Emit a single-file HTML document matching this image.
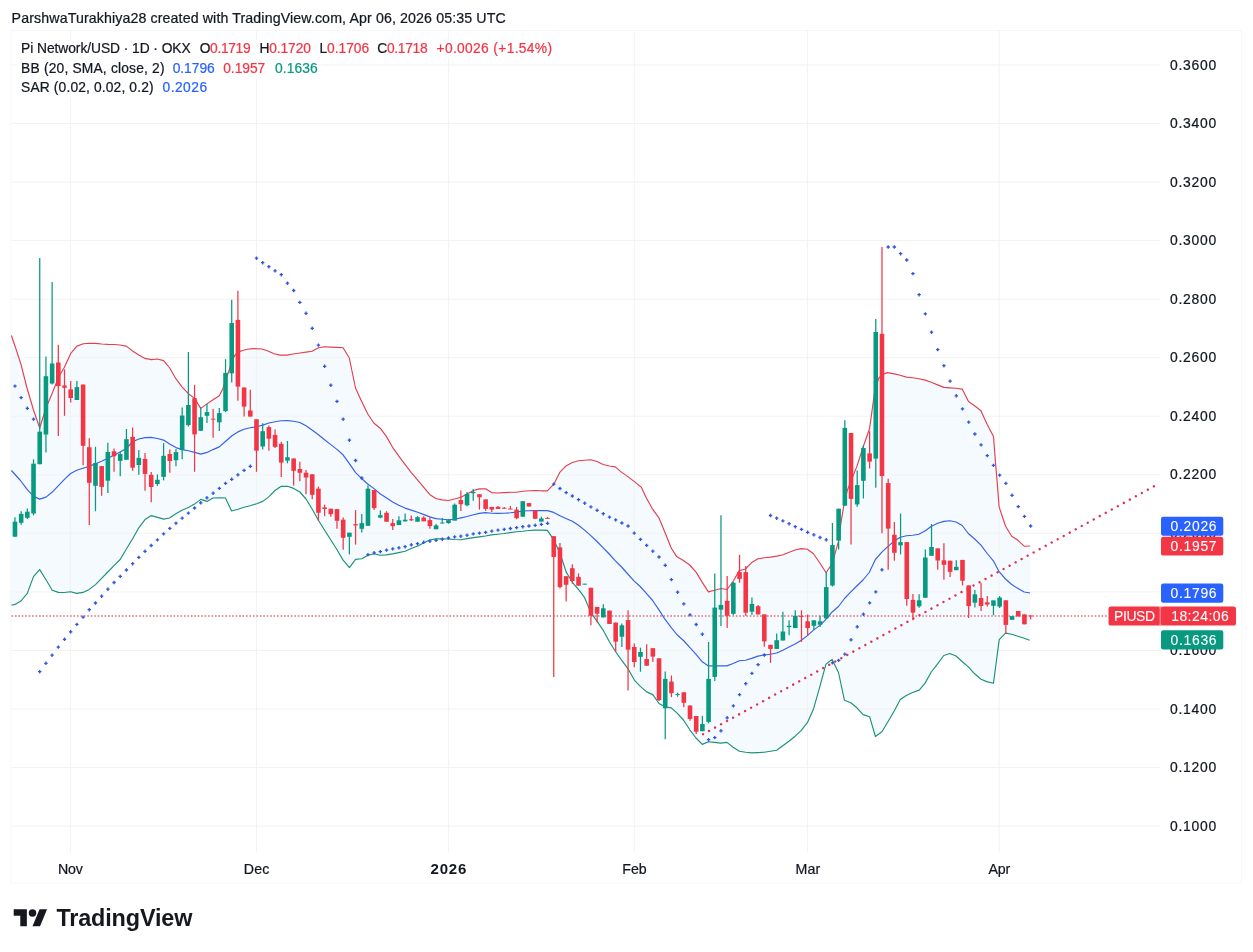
<!DOCTYPE html>
<html lang="en"><head><meta charset="utf-8"><title>Pi Network/USD chart</title>
<style>
html,body{margin:0;padding:0;background:#fff;}
body{width:1253px;height:952px;overflow:hidden;position:relative;font-family:"Liberation Sans", sans-serif;}
svg{position:absolute;left:0;top:0;display:block}
text{font-family:"Liberation Sans", sans-serif;}
</style></head><body>
<svg width="1253" height="952" viewBox="0 0 1253 952">
<rect x="0" y="0" width="1253" height="952" fill="#ffffff"/>
<rect x="10.9" y="30.4" width="1230.4" height="852.6" fill="#ffffff" stroke="#f7f7f8" stroke-width="1"/>
<polygon points="11.4,335.5 16.0,349.0 21.0,364.4 27.0,388.0 33.5,410.0 39.7,428.0 46.0,408.0 52.3,393.0 58.7,377.0 64.4,367.3 70.6,353.7 76.9,346.1 83.3,343.8 89.4,343.3 95.6,343.4 101.7,344.0 108.0,344.4 114.4,344.5 120.0,345.0 126.3,346.1 132.6,351.0 138.8,355.0 145.0,358.4 151.3,359.6 157.5,359.0 163.6,360.6 169.7,368.0 175.9,378.7 182.0,386.8 188.4,393.7 194.6,398.4 200.7,408.4 207.0,403.9 213.0,399.8 219.3,395.7 222.5,389.6 225.4,381.0 229.0,370.5 231.6,362.0 235.0,355.0 241.0,351.0 247.0,349.2 253.5,348.6 262.0,349.0 268.0,351.0 274.0,353.8 280.0,355.1 287.0,355.1 293.0,354.0 300.0,353.0 306.0,352.1 312.0,351.2 318.5,347.8 324.5,346.8 330.7,347.1 337.0,347.4 343.1,347.8 349.3,358.0 355.5,388.0 361.7,401.5 367.8,414.0 374.0,423.2 380.2,428.2 386.3,436.4 392.6,447.3 398.8,456.2 405.0,464.4 411.3,472.6 417.7,480.1 424.0,487.6 429.7,494.4 435.8,498.5 442.0,499.9 448.4,500.5 454.5,499.0 460.9,497.3 467.0,493.9 473.5,490.5 479.2,488.9 485.5,488.7 491.6,492.6 497.8,493.0 504.0,492.6 510.3,492.3 516.5,492.2 522.8,491.2 529.0,490.8 535.0,490.5 541.2,490.8 547.3,490.8 553.7,484.4 560.0,472.1 566.0,465.9 572.3,462.5 578.5,460.8 584.6,460.2 590.8,459.7 597.0,461.5 603.2,464.5 609.4,466.0 615.3,466.9 621.4,472.1 628.2,476.9 634.4,481.6 641.2,487.1 646.0,497.3 652.1,508.3 658.9,517.8 665.1,532.8 671.2,548.0 676.7,556.6 683.0,560.3 689.7,565.0 696.1,572.1 702.3,582.4 708.4,591.9 714.6,590.3 721.0,588.5 727.1,589.5 733.4,581.0 739.1,570.8 745.3,569.0 751.7,562.6 758.0,558.7 764.1,557.8 770.5,557.1 776.7,556.1 783.1,554.8 789.2,552.3 795.1,550.0 801.3,548.6 807.4,549.3 813.5,553.7 820.0,563.2 826.1,572.8 832.4,563.2 838.5,541.2 841.0,522.4 844.4,502.0 847.1,491.0 850.8,481.4 856.9,466.4 863.1,447.0 869.6,428.5 874.4,393.7 878.5,378.7 881.9,374.7 887.4,372.6 894.5,373.9 900.1,375.3 906.5,377.1 912.6,377.7 918.8,378.7 925.2,380.1 931.3,382.3 937.6,384.9 943.8,387.4 949.8,387.9 956.0,388.3 962.2,389.1 968.5,401.6 974.6,405.7 980.9,410.8 987.1,424.2 993.5,436.5 995.5,462.4 997.3,483.7 999.1,506.9 1005.5,526.0 1011.7,536.2 1018.0,540.3 1024.2,546.2 1030.1,546.0 1029.7,640.3 1024.2,638.3 1017.8,636.2 1011.7,634.2 1005.5,633.1 999.2,639.6 993.5,683.3 987.4,681.9 981.0,679.2 974.7,673.8 968.3,666.9 962.1,661.5 956.0,656.0 949.8,653.5 943.8,655.5 937.6,663.8 931.3,672.0 925.2,682.9 919.3,690.1 912.6,692.5 906.3,695.4 900.3,699.4 894.5,710.5 888.1,721.5 881.9,731.7 875.4,736.5 869.6,716.7 863.1,714.6 856.9,707.8 850.8,702.8 844.4,700.2 838.5,672.5 832.1,659.4 825.9,664.3 819.8,686.8 813.6,708.7 807.5,722.4 801.3,730.3 795.1,736.2 789.0,741.3 782.8,745.8 776.7,750.3 770.5,751.3 764.1,752.2 758.0,752.6 751.7,752.9 745.6,752.2 739.4,751.3 733.1,747.2 726.9,742.4 720.7,743.1 714.6,742.4 708.4,741.7 702.3,744.4 696.0,738.0 689.8,729.8 683.8,720.5 677.6,713.7 671.3,707.9 665.3,706.9 659.0,703.5 652.8,694.6 646.6,691.9 640.3,686.4 634.5,680.3 628.3,669.2 621.9,660.6 615.8,652.0 609.4,641.7 603.1,630.1 596.9,621.2 590.8,612.4 584.4,597.3 578.8,589.8 572.4,582.3 566.2,572.1 560.0,553.3 553.7,539.7 547.3,530.4 541.2,530.1 535.0,530.1 529.0,530.5 522.8,531.2 516.5,531.7 510.3,532.6 504.0,533.5 497.8,534.2 491.6,534.9 485.5,536.0 479.2,536.9 473.5,537.6 467.0,538.6 461.0,539.8 454.5,539.5 448.4,539.0 442.1,538.9 435.8,538.9 429.7,540.0 424.0,542.8 417.7,546.0 411.3,548.5 405.1,551.2 398.8,552.6 392.6,553.9 386.3,554.9 380.1,555.3 374.4,553.7 368.0,555.3 361.8,558.7 355.6,559.4 349.4,567.6 343.1,560.1 337.0,549.7 330.7,539.8 324.6,530.3 318.7,520.7 312.4,509.5 306.0,499.0 299.9,492.0 293.6,488.4 287.5,486.3 281.2,486.3 275.0,490.5 269.0,496.6 262.8,501.4 256.6,503.7 250.2,505.8 244.0,507.3 237.9,509.3 231.6,511.0 225.4,498.0 219.3,497.7 213.0,498.0 207.0,501.4 200.7,499.4 194.6,504.1 188.4,507.5 182.0,510.3 175.9,513.7 169.5,518.0 163.8,519.1 157.5,517.4 151.3,515.6 145.0,519.6 138.8,527.8 132.6,538.7 126.4,549.0 120.2,559.5 114.0,565.7 107.8,572.0 101.6,578.4 95.5,584.6 89.3,589.4 83.0,592.4 76.8,593.4 70.6,591.7 64.4,592.5 58.4,592.4 52.2,590.3 46.0,579.8 39.7,569.6 33.6,576.4 27.3,593.4 21.0,601.0 15.0,604.4 11.4,605.3" fill="#2196F3" fill-opacity="0.05"/>
<g stroke="#f2f2f3" stroke-width="1" fill="none">
<line x1="11.4" y1="64.95" x2="1160.5" y2="64.95"/>
<line x1="11.4" y1="123.50" x2="1160.5" y2="123.50"/>
<line x1="11.4" y1="182.05" x2="1160.5" y2="182.05"/>
<line x1="11.4" y1="240.60" x2="1160.5" y2="240.60"/>
<line x1="11.4" y1="299.15" x2="1160.5" y2="299.15"/>
<line x1="11.4" y1="357.70" x2="1160.5" y2="357.70"/>
<line x1="11.4" y1="416.25" x2="1160.5" y2="416.25"/>
<line x1="11.4" y1="474.80" x2="1160.5" y2="474.80"/>
<line x1="11.4" y1="533.35" x2="1160.5" y2="533.35"/>
<line x1="11.4" y1="591.90" x2="1160.5" y2="591.90"/>
<line x1="11.4" y1="650.45" x2="1160.5" y2="650.45"/>
<line x1="11.4" y1="709.00" x2="1160.5" y2="709.00"/>
<line x1="11.4" y1="767.55" x2="1160.5" y2="767.55"/>
<line x1="11.4" y1="826.10" x2="1160.5" y2="826.10"/>
<line x1="70.4" y1="30.9" x2="70.4" y2="852"/>
<line x1="256.5" y1="30.9" x2="256.5" y2="852"/>
<line x1="448.6" y1="30.9" x2="448.6" y2="852"/>
<line x1="634.3" y1="30.9" x2="634.3" y2="852"/>
<line x1="807.4" y1="30.9" x2="807.4" y2="852"/>
<line x1="999.2" y1="30.9" x2="999.2" y2="852"/>
</g>
<line x1="11.4" y1="616" x2="1108" y2="616" stroke="#dc7481" stroke-width="1.45" stroke-dasharray="1.65 1.8"/>
<polyline points="11.4,335.5 16.0,349.0 21.0,364.4 27.0,388.0 33.5,410.0 39.7,428.0 46.0,408.0 52.3,393.0 58.7,377.0 64.4,367.3 70.6,353.7 76.9,346.1 83.3,343.8 89.4,343.3 95.6,343.4 101.7,344.0 108.0,344.4 114.4,344.5 120.0,345.0 126.3,346.1 132.6,351.0 138.8,355.0 145.0,358.4 151.3,359.6 157.5,359.0 163.6,360.6 169.7,368.0 175.9,378.7 182.0,386.8 188.4,393.7 194.6,398.4 200.7,408.4 207.0,403.9 213.0,399.8 219.3,395.7 222.5,389.6 225.4,381.0 229.0,370.5 231.6,362.0 235.0,355.0 241.0,351.0 247.0,349.2 253.5,348.6 262.0,349.0 268.0,351.0 274.0,353.8 280.0,355.1 287.0,355.1 293.0,354.0 300.0,353.0 306.0,352.1 312.0,351.2 318.5,347.8 324.5,346.8 330.7,347.1 337.0,347.4 343.1,347.8 349.3,358.0 355.5,388.0 361.7,401.5 367.8,414.0 374.0,423.2 380.2,428.2 386.3,436.4 392.6,447.3 398.8,456.2 405.0,464.4 411.3,472.6 417.7,480.1 424.0,487.6 429.7,494.4 435.8,498.5 442.0,499.9 448.4,500.5 454.5,499.0 460.9,497.3 467.0,493.9 473.5,490.5 479.2,488.9 485.5,488.7 491.6,492.6 497.8,493.0 504.0,492.6 510.3,492.3 516.5,492.2 522.8,491.2 529.0,490.8 535.0,490.5 541.2,490.8 547.3,490.8 553.7,484.4 560.0,472.1 566.0,465.9 572.3,462.5 578.5,460.8 584.6,460.2 590.8,459.7 597.0,461.5 603.2,464.5 609.4,466.0 615.3,466.9 621.4,472.1 628.2,476.9 634.4,481.6 641.2,487.1 646.0,497.3 652.1,508.3 658.9,517.8 665.1,532.8 671.2,548.0 676.7,556.6 683.0,560.3 689.7,565.0 696.1,572.1 702.3,582.4 708.4,591.9 714.6,590.3 721.0,588.5 727.1,589.5 733.4,581.0 739.1,570.8 745.3,569.0 751.7,562.6 758.0,558.7 764.1,557.8 770.5,557.1 776.7,556.1 783.1,554.8 789.2,552.3 795.1,550.0 801.3,548.6 807.4,549.3 813.5,553.7 820.0,563.2 826.1,572.8 832.4,563.2 838.5,541.2 841.0,522.4 844.4,502.0 847.1,491.0 850.8,481.4 856.9,466.4 863.1,447.0 869.6,428.5 874.4,393.7 878.5,378.7 881.9,374.7 887.4,372.6 894.5,373.9 900.1,375.3 906.5,377.1 912.6,377.7 918.8,378.7 925.2,380.1 931.3,382.3 937.6,384.9 943.8,387.4 949.8,387.9 956.0,388.3 962.2,389.1 968.5,401.6 974.6,405.7 980.9,410.8 987.1,424.2 993.5,436.5 995.5,462.4 997.3,483.7 999.1,506.9 1005.5,526.0 1011.7,536.2 1018.0,540.3 1024.2,546.2 1030.1,546.0" fill="none" stroke="#E2404F" stroke-width="1.15" stroke-linejoin="round"/>
<polyline points="11.4,605.3 15.0,604.4 21.0,601.0 27.3,593.4 33.6,576.4 39.7,569.6 46.0,579.8 52.2,590.3 58.4,592.4 64.4,592.5 70.6,591.7 76.8,593.4 83.0,592.4 89.3,589.4 95.5,584.6 101.6,578.4 107.8,572.0 114.0,565.7 120.2,559.5 126.4,549.0 132.6,538.7 138.8,527.8 145.0,519.6 151.3,515.6 157.5,517.4 163.8,519.1 169.5,518.0 175.9,513.7 182.0,510.3 188.4,507.5 194.6,504.1 200.7,499.4 207.0,501.4 213.0,498.0 219.3,497.7 225.4,498.0 231.6,511.0 237.9,509.3 244.0,507.3 250.2,505.8 256.6,503.7 262.8,501.4 269.0,496.6 275.0,490.5 281.2,486.3 287.5,486.3 293.6,488.4 299.9,492.0 306.0,499.0 312.4,509.5 318.7,520.7 324.6,530.3 330.7,539.8 337.0,549.7 343.1,560.1 349.4,567.6 355.6,559.4 361.8,558.7 368.0,555.3 374.4,553.7 380.1,555.3 386.3,554.9 392.6,553.9 398.8,552.6 405.1,551.2 411.3,548.5 417.7,546.0 424.0,542.8 429.7,540.0 435.8,538.9 442.1,538.9 448.4,539.0 454.5,539.5 461.0,539.8 467.0,538.6 473.5,537.6 479.2,536.9 485.5,536.0 491.6,534.9 497.8,534.2 504.0,533.5 510.3,532.6 516.5,531.7 522.8,531.2 529.0,530.5 535.0,530.1 541.2,530.1 547.3,530.4 553.7,539.7 560.0,553.3 566.2,572.1 572.4,582.3 578.8,589.8 584.4,597.3 590.8,612.4 596.9,621.2 603.1,630.1 609.4,641.7 615.8,652.0 621.9,660.6 628.3,669.2 634.5,680.3 640.3,686.4 646.6,691.9 652.8,694.6 659.0,703.5 665.3,706.9 671.3,707.9 677.6,713.7 683.8,720.5 689.8,729.8 696.0,738.0 702.3,744.4 708.4,741.7 714.6,742.4 720.7,743.1 726.9,742.4 733.1,747.2 739.4,751.3 745.6,752.2 751.7,752.9 758.0,752.6 764.1,752.2 770.5,751.3 776.7,750.3 782.8,745.8 789.0,741.3 795.1,736.2 801.3,730.3 807.5,722.4 813.6,708.7 819.8,686.8 825.9,664.3 832.1,659.4 838.5,672.5 844.4,700.2 850.8,702.8 856.9,707.8 863.1,714.6 869.6,716.7 875.4,736.5 881.9,731.7 888.1,721.5 894.5,710.5 900.3,699.4 906.3,695.4 912.6,692.5 919.3,690.1 925.2,682.9 931.3,672.0 937.6,663.8 943.8,655.5 949.8,653.5 956.0,656.0 962.1,661.5 968.3,666.9 974.7,673.8 981.0,679.2 987.4,681.9 993.5,683.3 999.2,639.6 1005.5,633.1 1011.7,634.2 1017.8,636.2 1024.2,638.3 1029.7,640.3" fill="none" stroke="#1C9179" stroke-width="1.15" stroke-linejoin="round"/>
<polyline points="11.4,470.5 20.0,480.0 27.3,489.6 33.6,496.4 39.7,499.1 46.0,497.1 52.0,492.3 58.0,486.2 64.4,479.4 70.6,473.5 76.8,470.2 83.0,468.2 89.0,466.4 95.5,463.7 101.6,461.3 107.8,458.2 114.0,455.2 120.0,452.0 126.4,448.5 132.6,441.7 138.8,439.0 145.0,437.6 151.2,437.4 157.4,438.5 163.6,440.1 170.0,444.2 176.0,447.6 182.0,449.6 188.4,450.7 194.6,452.4 200.7,454.1 207.0,452.4 213.0,449.6 219.3,446.9 225.4,441.5 231.6,436.0 237.9,431.9 244.0,429.2 250.2,427.8 256.6,426.7 262.8,425.1 269.0,423.0 275.0,421.7 281.2,420.7 287.5,420.6 293.6,421.2 299.9,422.5 306.0,425.8 312.4,430.2 318.7,435.0 324.6,439.8 330.7,444.6 337.0,449.4 343.0,454.8 349.4,463.7 355.6,472.6 361.8,478.7 368.0,484.2 374.4,488.9 380.0,493.7 386.3,497.8 392.6,501.9 398.8,505.3 405.0,508.1 411.3,510.1 417.7,512.2 424.0,514.6 429.7,516.9 435.8,518.6 442.0,519.2 448.4,519.7 454.5,519.3 461.0,517.9 467.0,516.5 473.5,514.8 479.2,513.4 485.5,512.6 491.6,513.3 497.8,513.4 504.0,513.3 510.3,512.8 516.5,512.1 522.8,511.0 529.0,510.7 535.0,510.6 541.2,510.6 547.3,510.6 553.7,512.4 560.0,515.8 566.0,518.5 572.3,521.2 578.5,525.3 584.6,530.1 590.8,535.6 597.0,541.5 603.2,547.8 609.2,554.0 615.4,560.8 621.6,567.0 627.8,574.0 634.0,580.8 640.2,586.5 646.4,593.3 652.6,600.5 658.8,609.6 664.9,619.2 671.1,627.4 677.3,635.0 683.5,640.5 689.7,647.4 696.1,654.3 702.3,661.8 708.4,665.9 714.6,665.9 720.7,665.7 726.9,665.9 733.1,663.5 739.4,660.8 745.6,660.2 751.7,658.4 758.0,656.1 764.1,655.0 770.5,654.3 776.7,653.0 782.8,650.2 789.0,647.1 795.1,644.1 801.3,640.3 807.4,635.6 813.5,630.1 820.0,625.4 826.1,619.2 832.4,611.7 838.5,606.5 844.5,598.5 850.6,592.2 856.8,586.0 863.0,580.0 869.2,572.5 875.4,559.5 881.6,552.3 887.8,546.6 894.6,540.8 900.3,537.2 906.5,535.8 912.8,535.2 918.9,534.3 925.3,530.8 931.5,526.3 937.6,523.3 944.0,521.4 949.9,520.7 956.0,522.0 962.2,525.5 968.3,533.5 974.7,539.0 980.9,545.2 987.2,553.5 993.4,560.8 999.1,571.7 1005.5,579.0 1011.7,584.5 1018.0,588.6 1024.2,592.0 1030.1,593.0" fill="none" stroke="#3560E8" stroke-width="1.15" stroke-linejoin="round"/>
<line x1="703.0" y1="734.2" x2="1158.9" y2="483.6" stroke="#E02F50" stroke-width="2.4" stroke-linecap="round" stroke-dasharray="0.01 6.85"/>
<path d="M14.96 517.2V536.7" stroke="#089981" stroke-width="1.25"/><rect x="12.66" y="521.7" width="4.6" height="15.0" fill="#089981"/>
<path d="M21.16 511.2V524.8" stroke="#089981" stroke-width="1.25"/><rect x="18.86" y="513.9" width="4.6" height="8.9" fill="#089981"/>
<path d="M27.35 508.4V519.0" stroke="#089981" stroke-width="1.25"/><rect x="25.05" y="511.7" width="4.6" height="6.1" fill="#089981"/>
<path d="M33.54 459.3V515.3" stroke="#089981" stroke-width="1.25"/><rect x="31.24" y="463.7" width="4.6" height="49.8" fill="#089981"/>
<path d="M39.74 258.0V464.2" stroke="#089981" stroke-width="1.25"/><rect x="37.44" y="431.7" width="4.6" height="32.5" fill="#089981"/>
<path d="M45.93 356.4V452.6" stroke="#089981" stroke-width="1.25"/><rect x="43.63" y="376.2" width="4.6" height="58.3" fill="#089981"/>
<path d="M52.12 282.0V384.5" stroke="#089981" stroke-width="1.25"/><rect x="49.82" y="363.5" width="4.6" height="20.0" fill="#089981"/>
<path d="M58.31 344.8V436.0" stroke="#F23645" stroke-width="1.25"/><rect x="56.01" y="362.5" width="4.6" height="23.6" fill="#F23645"/>
<path d="M64.51 369.4V415.8" stroke="#F23645" stroke-width="1.25"/><rect x="62.21" y="385.5" width="4.6" height="2.3" fill="#F23645"/>
<path d="M70.70 381.0V402.5" stroke="#F23645" stroke-width="1.25"/><rect x="68.40" y="389.4" width="4.6" height="8.6" fill="#F23645"/>
<path d="M76.89 381.0V400.0" stroke="#089981" stroke-width="1.25"/><rect x="74.59" y="387.1" width="4.6" height="12.9" fill="#089981"/>
<path d="M83.09 384.6V465.3" stroke="#F23645" stroke-width="1.25"/><rect x="80.79" y="384.6" width="4.6" height="61.2" fill="#F23645"/>
<path d="M89.28 438.3V525.1" stroke="#F23645" stroke-width="1.25"/><rect x="86.98" y="447.2" width="4.6" height="35.6" fill="#F23645"/>
<path d="M95.47 446.8V511.2" stroke="#089981" stroke-width="1.25"/><rect x="93.17" y="463.0" width="4.6" height="22.8" fill="#089981"/>
<path d="M101.66 466.1V495.7" stroke="#F23645" stroke-width="1.25"/><rect x="99.36" y="466.1" width="4.6" height="20.8" fill="#F23645"/>
<path d="M107.86 442.7V493.0" stroke="#089981" stroke-width="1.25"/><rect x="105.56" y="452.0" width="4.6" height="28.7" fill="#089981"/>
<path d="M114.05 448.5V471.8" stroke="#F23645" stroke-width="1.25"/><rect x="111.75" y="451.3" width="4.6" height="4.9" fill="#F23645"/>
<path d="M120.24 452.0V476.3" stroke="#089981" stroke-width="1.25"/><rect x="117.94" y="454.0" width="4.6" height="6.9" fill="#089981"/>
<path d="M126.44 429.0V459.8" stroke="#089981" stroke-width="1.25"/><rect x="124.14" y="439.2" width="4.6" height="20.6" fill="#089981"/>
<path d="M132.63 427.4V470.8" stroke="#F23645" stroke-width="1.25"/><rect x="130.33" y="436.9" width="4.6" height="30.8" fill="#F23645"/>
<path d="M138.82 449.9V474.8" stroke="#089981" stroke-width="1.25"/><rect x="136.52" y="457.9" width="4.6" height="7.1" fill="#089981"/>
<path d="M145.02 453.0V490.7" stroke="#F23645" stroke-width="1.25"/><rect x="142.72" y="458.9" width="4.6" height="15.0" fill="#F23645"/>
<path d="M151.21 472.1V502.2" stroke="#F23645" stroke-width="1.25"/><rect x="148.91" y="474.8" width="4.6" height="12.2" fill="#F23645"/>
<path d="M157.40 474.4V485.8" stroke="#089981" stroke-width="1.25"/><rect x="155.10" y="479.8" width="4.6" height="4.2" fill="#089981"/>
<path d="M163.59 443.1V480.4" stroke="#089981" stroke-width="1.25"/><rect x="161.29" y="455.8" width="4.6" height="21.1" fill="#089981"/>
<path d="M169.79 449.6V472.8" stroke="#F23645" stroke-width="1.25"/><rect x="167.49" y="454.0" width="4.6" height="7.0" fill="#F23645"/>
<path d="M175.98 449.0V466.3" stroke="#089981" stroke-width="1.25"/><rect x="173.68" y="452.1" width="4.6" height="8.1" fill="#089981"/>
<path d="M182.17 407.6V459.2" stroke="#089981" stroke-width="1.25"/><rect x="179.87" y="415.5" width="4.6" height="34.4" fill="#089981"/>
<path d="M188.37 352.1V426.4" stroke="#089981" stroke-width="1.25"/><rect x="186.07" y="405.0" width="4.6" height="20.1" fill="#089981"/>
<path d="M194.56 384.8V471.8" stroke="#F23645" stroke-width="1.25"/><rect x="192.26" y="398.2" width="4.6" height="36.2" fill="#F23645"/>
<path d="M200.75 407.3V430.8" stroke="#089981" stroke-width="1.25"/><rect x="198.45" y="417.2" width="4.6" height="13.6" fill="#089981"/>
<path d="M206.95 403.9V423.0" stroke="#089981" stroke-width="1.25"/><rect x="204.65" y="412.1" width="4.6" height="3.7" fill="#089981"/>
<path d="M213.14 409.1V437.8" stroke="#F23645" stroke-width="1.25"/><rect x="210.84" y="418.7" width="4.6" height="0.9" fill="#F23645"/>
<path d="M219.33 408.0V430.9" stroke="#089981" stroke-width="1.25"/><rect x="217.03" y="413.1" width="4.6" height="9.2" fill="#089981"/>
<path d="M225.52 359.2V412.1" stroke="#089981" stroke-width="1.25"/><rect x="223.22" y="372.9" width="4.6" height="38.2" fill="#089981"/>
<path d="M231.72 299.8V382.5" stroke="#089981" stroke-width="1.25"/><rect x="229.42" y="323.0" width="4.6" height="50.3" fill="#089981"/>
<path d="M237.91 290.7V400.8" stroke="#F23645" stroke-width="1.25"/><rect x="235.61" y="319.9" width="4.6" height="66.7" fill="#F23645"/>
<path d="M244.10 387.5V416.6" stroke="#F23645" stroke-width="1.25"/><rect x="241.80" y="387.5" width="4.6" height="19.1" fill="#F23645"/>
<path d="M250.30 389.8V416.6" stroke="#F23645" stroke-width="1.25"/><rect x="248.00" y="410.5" width="4.6" height="6.1" fill="#F23645"/>
<path d="M256.49 419.3V471.8" stroke="#F23645" stroke-width="1.25"/><rect x="254.19" y="419.3" width="4.6" height="31.4" fill="#F23645"/>
<path d="M262.68 423.3V449.6" stroke="#089981" stroke-width="1.25"/><rect x="260.38" y="431.2" width="4.6" height="15.3" fill="#089981"/>
<path d="M268.88 425.5V450.7" stroke="#F23645" stroke-width="1.25"/><rect x="266.58" y="427.1" width="4.6" height="11.6" fill="#F23645"/>
<path d="M275.07 429.6V448.0" stroke="#F23645" stroke-width="1.25"/><rect x="272.77" y="434.9" width="4.6" height="12.0" fill="#F23645"/>
<path d="M281.26 441.7V476.9" stroke="#F23645" stroke-width="1.25"/><rect x="278.96" y="443.8" width="4.6" height="18.8" fill="#F23645"/>
<path d="M287.45 441.0V463.3" stroke="#089981" stroke-width="1.25"/><rect x="285.15" y="457.2" width="4.6" height="3.4" fill="#089981"/>
<path d="M293.65 458.5V485.4" stroke="#F23645" stroke-width="1.25"/><rect x="291.35" y="458.5" width="4.6" height="12.3" fill="#F23645"/>
<path d="M299.84 461.7V481.3" stroke="#F23645" stroke-width="1.25"/><rect x="297.54" y="469.0" width="4.6" height="3.8" fill="#F23645"/>
<path d="M306.03 469.9V494.3" stroke="#F23645" stroke-width="1.25"/><rect x="303.73" y="472.7" width="4.6" height="4.8" fill="#F23645"/>
<path d="M312.23 474.3V499.2" stroke="#F23645" stroke-width="1.25"/><rect x="309.93" y="474.3" width="4.6" height="20.5" fill="#F23645"/>
<path d="M318.42 486.6V521.0" stroke="#F23645" stroke-width="1.25"/><rect x="316.12" y="488.7" width="4.6" height="24.1" fill="#F23645"/>
<path d="M324.61 504.6V516.2" stroke="#F23645" stroke-width="1.25"/><rect x="322.31" y="507.4" width="4.6" height="1.6" fill="#F23645"/>
<path d="M330.81 508.7V516.7" stroke="#F23645" stroke-width="1.25"/><rect x="328.51" y="508.7" width="4.6" height="5.5" fill="#F23645"/>
<path d="M337.00 509.1V528.8" stroke="#F23645" stroke-width="1.25"/><rect x="334.70" y="509.1" width="4.6" height="11.7" fill="#F23645"/>
<path d="M343.19 517.6V549.8" stroke="#F23645" stroke-width="1.25"/><rect x="340.89" y="519.7" width="4.6" height="18.1" fill="#F23645"/>
<path d="M349.38 532.7V554.3" stroke="#089981" stroke-width="1.25"/><rect x="347.08" y="532.7" width="4.6" height="4.1" fill="#089981"/>
<path d="M355.58 510.1V544.6" stroke="#F23645" stroke-width="1.25"/><rect x="353.28" y="524.2" width="4.6" height="1.3" fill="#F23645"/>
<path d="M361.77 513.9V532.6" stroke="#089981" stroke-width="1.25"/><rect x="359.47" y="523.1" width="4.6" height="5.7" fill="#089981"/>
<path d="M367.96 485.3V525.8" stroke="#089981" stroke-width="1.25"/><rect x="365.66" y="488.7" width="4.6" height="37.1" fill="#089981"/>
<path d="M374.16 490.0V510.1" stroke="#F23645" stroke-width="1.25"/><rect x="371.86" y="490.0" width="4.6" height="18.1" fill="#F23645"/>
<path d="M380.35 510.4V518.3" stroke="#089981" stroke-width="1.25"/><rect x="378.05" y="515.2" width="4.6" height="2.4" fill="#089981"/>
<path d="M386.54 511.2V521.7" stroke="#F23645" stroke-width="1.25"/><rect x="384.24" y="512.8" width="4.6" height="8.9" fill="#F23645"/>
<path d="M392.74 519.0V529.9" stroke="#F23645" stroke-width="1.25"/><rect x="390.44" y="523.1" width="4.6" height="3.0" fill="#F23645"/>
<path d="M398.93 516.2V525.1" stroke="#089981" stroke-width="1.25"/><rect x="396.63" y="520.3" width="4.6" height="4.8" fill="#089981"/>
<path d="M405.12 513.5V521.4" stroke="#089981" stroke-width="1.25"/><rect x="402.82" y="519.7" width="4.6" height="1.7" fill="#089981"/>
<path d="M411.31 515.6V521.0" stroke="#F23645" stroke-width="1.25"/><rect x="409.01" y="519.2" width="4.6" height="1.1" fill="#F23645"/>
<path d="M417.51 516.0V521.7" stroke="#089981" stroke-width="1.25"/><rect x="415.21" y="517.2" width="4.6" height="4.5" fill="#089981"/>
<path d="M423.70 516.2V521.3" stroke="#F23645" stroke-width="1.25"/><rect x="421.40" y="517.6" width="4.6" height="3.7" fill="#F23645"/>
<path d="M429.89 517.6V528.8" stroke="#F23645" stroke-width="1.25"/><rect x="427.59" y="520.1" width="4.6" height="6.0" fill="#F23645"/>
<path d="M436.09 524.0V529.2" stroke="#089981" stroke-width="1.25"/><rect x="433.79" y="525.4" width="4.6" height="3.8" fill="#089981"/>
<path d="M442.28 518.0V523.4" stroke="#089981" stroke-width="1.25"/><rect x="439.98" y="522.6" width="4.6" height="0.9" fill="#089981"/>
<path d="M448.47 519.0V523.8" stroke="#089981" stroke-width="1.25"/><rect x="446.17" y="520.1" width="4.6" height="3.0" fill="#089981"/>
<path d="M454.67 503.5V520.6" stroke="#089981" stroke-width="1.25"/><rect x="452.37" y="504.7" width="4.6" height="15.9" fill="#089981"/>
<path d="M460.86 490.5V511.0" stroke="#F23645" stroke-width="1.25"/><rect x="458.56" y="500.1" width="4.6" height="4.1" fill="#F23645"/>
<path d="M467.05 491.9V506.2" stroke="#089981" stroke-width="1.25"/><rect x="464.75" y="493.9" width="4.6" height="11.4" fill="#089981"/>
<path d="M473.24 489.1V500.8" stroke="#089981" stroke-width="1.25"/><rect x="470.94" y="491.9" width="4.6" height="1.3" fill="#089981"/>
<path d="M479.44 494.2V509.6" stroke="#F23645" stroke-width="1.25"/><rect x="477.14" y="494.2" width="4.6" height="3.1" fill="#F23645"/>
<path d="M485.63 499.4V510.7" stroke="#F23645" stroke-width="1.25"/><rect x="483.33" y="499.4" width="4.6" height="9.5" fill="#F23645"/>
<path d="M491.82 506.9V512.1" stroke="#F23645" stroke-width="1.25"/><rect x="489.52" y="506.9" width="4.6" height="2.7" fill="#F23645"/>
<path d="M498.02 505.9V508.9" stroke="#F23645" stroke-width="1.25"/><rect x="495.72" y="506.9" width="4.6" height="2.0" fill="#F23645"/>
<path d="M504.21 506.9V508.7" stroke="#F23645" stroke-width="1.25"/><rect x="501.91" y="507.8" width="4.6" height="0.9" fill="#F23645"/>
<path d="M510.40 505.9V509.4" stroke="#F23645" stroke-width="1.25"/><rect x="508.10" y="508.6" width="4.6" height="0.9" fill="#F23645"/>
<path d="M516.60 506.9V519.2" stroke="#F23645" stroke-width="1.25"/><rect x="514.30" y="509.6" width="4.6" height="8.6" fill="#F23645"/>
<path d="M522.79 501.2V516.7" stroke="#089981" stroke-width="1.25"/><rect x="520.49" y="501.2" width="4.6" height="15.5" fill="#089981"/>
<path d="M528.98 503.1V506.5" stroke="#F23645" stroke-width="1.25"/><rect x="526.68" y="503.1" width="4.6" height="3.4" fill="#F23645"/>
<path d="M535.17 510.3V518.8" stroke="#F23645" stroke-width="1.25"/><rect x="532.88" y="510.3" width="4.6" height="8.5" fill="#F23645"/>
<path d="M541.37 516.7V521.6" stroke="#089981" stroke-width="1.25"/><rect x="539.07" y="518.5" width="4.6" height="3.1" fill="#089981"/>
<path d="M547.56 516.9V518.8" stroke="#F23645" stroke-width="1.25"/><rect x="545.26" y="518.0" width="4.6" height="0.9" fill="#F23645"/>
<path d="M553.75 536.2V677.1" stroke="#F23645" stroke-width="1.25"/><rect x="551.45" y="536.2" width="4.6" height="20.8" fill="#F23645"/>
<path d="M559.95 542.9V588.5" stroke="#F23645" stroke-width="1.25"/><rect x="557.65" y="547.4" width="4.6" height="39.7" fill="#F23645"/>
<path d="M566.14 576.2V601.4" stroke="#F23645" stroke-width="1.25"/><rect x="563.84" y="576.2" width="4.6" height="8.6" fill="#F23645"/>
<path d="M572.33 564.2V583.7" stroke="#F23645" stroke-width="1.25"/><rect x="570.03" y="568.2" width="4.6" height="12.8" fill="#F23645"/>
<path d="M578.53 573.4V585.7" stroke="#F23645" stroke-width="1.25"/><rect x="576.23" y="576.9" width="4.6" height="8.8" fill="#F23645"/>
<path d="M584.72 583.7V584.6" stroke="#089981" stroke-width="1.25"/><rect x="582.42" y="583.7" width="4.6" height="0.9" fill="#089981"/>
<path d="M590.91 587.8V625.3" stroke="#F23645" stroke-width="1.25"/><rect x="588.61" y="587.8" width="4.6" height="28.0" fill="#F23645"/>
<path d="M597.11 606.9V622.6" stroke="#F23645" stroke-width="1.25"/><rect x="594.81" y="606.9" width="4.6" height="6.8" fill="#F23645"/>
<path d="M603.30 604.2V617.4" stroke="#089981" stroke-width="1.25"/><rect x="601.00" y="608.3" width="4.6" height="9.1" fill="#089981"/>
<path d="M609.49 610.6V624.0" stroke="#F23645" stroke-width="1.25"/><rect x="607.19" y="610.6" width="4.6" height="13.4" fill="#F23645"/>
<path d="M615.68 622.6V652.1" stroke="#F23645" stroke-width="1.25"/><rect x="613.38" y="622.6" width="4.6" height="19.1" fill="#F23645"/>
<path d="M621.88 623.5V646.9" stroke="#089981" stroke-width="1.25"/><rect x="619.58" y="625.3" width="4.6" height="11.4" fill="#089981"/>
<path d="M628.07 610.3V690.5" stroke="#F23645" stroke-width="1.25"/><rect x="625.77" y="620.1" width="4.6" height="29.6" fill="#F23645"/>
<path d="M634.26 643.6V667.3" stroke="#F23645" stroke-width="1.25"/><rect x="631.96" y="647.0" width="4.6" height="15.0" fill="#F23645"/>
<path d="M640.46 647.6V671.7" stroke="#089981" stroke-width="1.25"/><rect x="638.16" y="652.0" width="4.6" height="4.8" fill="#089981"/>
<path d="M646.65 644.2V665.7" stroke="#F23645" stroke-width="1.25"/><rect x="644.35" y="659.0" width="4.6" height="6.7" fill="#F23645"/>
<path d="M652.84 648.2V662.0" stroke="#F23645" stroke-width="1.25"/><rect x="650.54" y="648.2" width="4.6" height="8.4" fill="#F23645"/>
<path d="M659.03 658.3V701.0" stroke="#F23645" stroke-width="1.25"/><rect x="656.74" y="658.3" width="4.6" height="41.8" fill="#F23645"/>
<path d="M665.23 671.4V739.2" stroke="#089981" stroke-width="1.25"/><rect x="662.93" y="678.9" width="4.6" height="29.4" fill="#089981"/>
<path d="M671.42 675.5V697.1" stroke="#F23645" stroke-width="1.25"/><rect x="669.12" y="681.6" width="4.6" height="11.6" fill="#F23645"/>
<path d="M677.61 692.6V696.7" stroke="#089981" stroke-width="1.25"/><rect x="675.31" y="694.1" width="4.6" height="0.9" fill="#089981"/>
<path d="M683.81 692.3V707.3" stroke="#F23645" stroke-width="1.25"/><rect x="681.51" y="692.3" width="4.6" height="10.5" fill="#F23645"/>
<path d="M690.00 705.5V720.8" stroke="#F23645" stroke-width="1.25"/><rect x="687.70" y="705.5" width="4.6" height="13.4" fill="#F23645"/>
<path d="M696.19 716.0V733.9" stroke="#F23645" stroke-width="1.25"/><rect x="693.89" y="716.0" width="4.6" height="15.7" fill="#F23645"/>
<path d="M702.39 715.8V731.2" stroke="#089981" stroke-width="1.25"/><rect x="700.09" y="724.0" width="4.6" height="7.2" fill="#089981"/>
<path d="M708.58 642.0V723.3" stroke="#089981" stroke-width="1.25"/><rect x="706.28" y="678.9" width="4.6" height="43.0" fill="#089981"/>
<path d="M714.77 573.5V681.0" stroke="#089981" stroke-width="1.25"/><rect x="712.47" y="607.6" width="4.6" height="69.3" fill="#089981"/>
<path d="M720.97 515.3V626.0" stroke="#089981" stroke-width="1.25"/><rect x="718.67" y="604.9" width="4.6" height="4.8" fill="#089981"/>
<path d="M727.16 575.9V628.1" stroke="#F23645" stroke-width="1.25"/><rect x="724.86" y="600.8" width="4.6" height="15.0" fill="#F23645"/>
<path d="M733.35 581.7V615.1" stroke="#089981" stroke-width="1.25"/><rect x="731.05" y="582.8" width="4.6" height="31.0" fill="#089981"/>
<path d="M739.54 554.8V582.8" stroke="#F23645" stroke-width="1.25"/><rect x="737.24" y="572.1" width="4.6" height="6.8" fill="#F23645"/>
<path d="M745.74 566.0V615.8" stroke="#F23645" stroke-width="1.25"/><rect x="743.44" y="572.1" width="4.6" height="40.6" fill="#F23645"/>
<path d="M751.93 597.4V615.1" stroke="#089981" stroke-width="1.25"/><rect x="749.63" y="603.9" width="4.6" height="7.8" fill="#089981"/>
<path d="M758.12 604.9V614.4" stroke="#F23645" stroke-width="1.25"/><rect x="755.82" y="606.2" width="4.6" height="8.2" fill="#F23645"/>
<path d="M764.32 614.4V646.8" stroke="#F23645" stroke-width="1.25"/><rect x="762.02" y="614.4" width="4.6" height="27.0" fill="#F23645"/>
<path d="M770.51 644.8V662.9" stroke="#F23645" stroke-width="1.25"/><rect x="768.21" y="644.8" width="4.6" height="4.1" fill="#F23645"/>
<path d="M776.70 633.5V648.9" stroke="#089981" stroke-width="1.25"/><rect x="774.40" y="640.2" width="4.6" height="8.7" fill="#089981"/>
<path d="M782.89 611.7V640.5" stroke="#089981" stroke-width="1.25"/><rect x="780.60" y="631.5" width="4.6" height="9.0" fill="#089981"/>
<path d="M789.09 620.3V635.3" stroke="#089981" stroke-width="1.25"/><rect x="786.79" y="625.8" width="4.6" height="1.3" fill="#089981"/>
<path d="M795.28 610.3V628.1" stroke="#089981" stroke-width="1.25"/><rect x="792.98" y="615.8" width="4.6" height="12.3" fill="#089981"/>
<path d="M801.47 610.3V642.0" stroke="#F23645" stroke-width="1.25"/><rect x="799.17" y="615.8" width="4.6" height="1.1" fill="#F23645"/>
<path d="M807.67 614.4V635.6" stroke="#F23645" stroke-width="1.25"/><rect x="805.37" y="621.3" width="4.6" height="6.8" fill="#F23645"/>
<path d="M813.86 620.3V630.1" stroke="#089981" stroke-width="1.25"/><rect x="811.56" y="620.3" width="4.6" height="5.5" fill="#089981"/>
<path d="M820.05 615.8V627.1" stroke="#089981" stroke-width="1.25"/><rect x="817.75" y="621.3" width="4.6" height="3.4" fill="#089981"/>
<path d="M826.25 572.1V618.5" stroke="#089981" stroke-width="1.25"/><rect x="823.95" y="587.1" width="4.6" height="31.4" fill="#089981"/>
<path d="M832.44 523.0V586.5" stroke="#089981" stroke-width="1.25"/><rect x="830.14" y="545.1" width="4.6" height="40.4" fill="#089981"/>
<path d="M838.63 508.7V549.6" stroke="#089981" stroke-width="1.25"/><rect x="836.33" y="508.7" width="4.6" height="31.9" fill="#089981"/>
<path d="M844.83 420.3V505.7" stroke="#089981" stroke-width="1.25"/><rect x="842.53" y="427.9" width="4.6" height="77.8" fill="#089981"/>
<path d="M851.02 433.0V544.5" stroke="#F23645" stroke-width="1.25"/><rect x="848.72" y="433.0" width="4.6" height="65.9" fill="#F23645"/>
<path d="M857.21 470.5V506.7" stroke="#089981" stroke-width="1.25"/><rect x="854.91" y="485.1" width="4.6" height="19.3" fill="#089981"/>
<path d="M863.40 445.1V498.5" stroke="#089981" stroke-width="1.25"/><rect x="861.10" y="448.0" width="4.6" height="32.8" fill="#089981"/>
<path d="M869.60 431.3V468.5" stroke="#F23645" stroke-width="1.25"/><rect x="867.30" y="453.4" width="4.6" height="8.2" fill="#F23645"/>
<path d="M875.79 319.0V487.8" stroke="#089981" stroke-width="1.25"/><rect x="873.49" y="332.0" width="4.6" height="126.6" fill="#089981"/>
<path d="M881.98 247.0V533.3" stroke="#F23645" stroke-width="1.25"/><rect x="879.68" y="333.8" width="4.6" height="142.2" fill="#F23645"/>
<path d="M888.18 478.7V569.8" stroke="#F23645" stroke-width="1.25"/><rect x="885.88" y="483.1" width="4.6" height="45.5" fill="#F23645"/>
<path d="M894.37 522.0V560.7" stroke="#F23645" stroke-width="1.25"/><rect x="892.07" y="534.8" width="4.6" height="18.0" fill="#F23645"/>
<path d="M900.56 513.5V554.4" stroke="#089981" stroke-width="1.25"/><rect x="898.26" y="542.1" width="4.6" height="3.2" fill="#089981"/>
<path d="M906.75 542.1V605.7" stroke="#F23645" stroke-width="1.25"/><rect x="904.46" y="542.1" width="4.6" height="56.9" fill="#F23645"/>
<path d="M912.95 594.0V620.3" stroke="#F23645" stroke-width="1.25"/><rect x="910.65" y="599.9" width="4.6" height="12.7" fill="#F23645"/>
<path d="M919.14 594.3V607.8" stroke="#089981" stroke-width="1.25"/><rect x="916.84" y="600.3" width="4.6" height="6.0" fill="#089981"/>
<path d="M925.33 549.4V597.7" stroke="#089981" stroke-width="1.25"/><rect x="923.03" y="557.5" width="4.6" height="40.2" fill="#089981"/>
<path d="M931.53 524.0V555.8" stroke="#089981" stroke-width="1.25"/><rect x="929.23" y="547.0" width="4.6" height="8.8" fill="#089981"/>
<path d="M937.72 548.4V569.8" stroke="#F23645" stroke-width="1.25"/><rect x="935.42" y="548.4" width="4.6" height="12.1" fill="#F23645"/>
<path d="M943.91 543.3V579.8" stroke="#F23645" stroke-width="1.25"/><rect x="941.61" y="560.3" width="4.6" height="4.5" fill="#F23645"/>
<path d="M950.11 560.7V577.1" stroke="#F23645" stroke-width="1.25"/><rect x="947.81" y="560.7" width="4.6" height="11.2" fill="#F23645"/>
<path d="M956.30 560.3V570.2" stroke="#089981" stroke-width="1.25"/><rect x="954.00" y="566.8" width="4.6" height="3.4" fill="#089981"/>
<path d="M962.49 559.9V585.4" stroke="#F23645" stroke-width="1.25"/><rect x="960.19" y="559.9" width="4.6" height="20.8" fill="#F23645"/>
<path d="M968.68 585.4V618.0" stroke="#F23645" stroke-width="1.25"/><rect x="966.38" y="585.4" width="4.6" height="20.7" fill="#F23645"/>
<path d="M974.88 590.0V607.5" stroke="#089981" stroke-width="1.25"/><rect x="972.58" y="594.3" width="4.6" height="8.4" fill="#089981"/>
<path d="M981.07 582.9V611.1" stroke="#F23645" stroke-width="1.25"/><rect x="978.77" y="598.0" width="4.6" height="8.0" fill="#F23645"/>
<path d="M987.26 595.9V606.6" stroke="#F23645" stroke-width="1.25"/><rect x="984.96" y="602.4" width="4.6" height="2.1" fill="#F23645"/>
<path d="M993.46 600.4V615.2" stroke="#089981" stroke-width="1.25"/><rect x="991.16" y="600.4" width="4.6" height="5.4" fill="#089981"/>
<path d="M999.65 595.9V608.0" stroke="#089981" stroke-width="1.25"/><rect x="997.35" y="597.6" width="4.6" height="9.0" fill="#089981"/>
<path d="M1005.84 600.3V633.5" stroke="#F23645" stroke-width="1.25"/><rect x="1003.54" y="600.3" width="4.6" height="24.6" fill="#F23645"/>
<path d="M1012.04 616.1V619.8" stroke="#089981" stroke-width="1.25"/><rect x="1009.74" y="616.1" width="4.6" height="3.7" fill="#089981"/>
<path d="M1018.23 611.0V616.4" stroke="#F23645" stroke-width="1.25"/><rect x="1015.93" y="611.0" width="4.6" height="5.4" fill="#F23645"/>
<path d="M1024.42 614.4V624.3" stroke="#F23645" stroke-width="1.25"/><rect x="1022.12" y="614.4" width="4.6" height="9.9" fill="#F23645"/>
<path d="M1030.62 615.3V619.4" stroke="#F23645" stroke-width="1.25"/><rect x="1028.32" y="615.5" width="4.6" height="0.9" fill="#F23645"/>
<path d="M13.26 386.1h3.4M14.96 384.4v3.4M19.46 397.6h3.4M21.16 395.9v3.4M25.65 408.3h3.4M27.35 406.6v3.4M31.84 419.2h3.4M33.54 417.5v3.4M38.04 671.7h3.4M39.74 670.0v3.4M44.23 663.3h3.4M45.93 661.6v3.4M50.42 655.2h3.4M52.12 653.5v3.4M56.61 647.1h3.4M58.31 645.4v3.4M62.81 639.3h3.4M64.51 637.6v3.4M69.00 631.8h3.4M70.70 630.1v3.4M75.19 624.4h3.4M76.89 622.7v3.4M81.39 617.1h3.4M83.09 615.4v3.4M87.58 609.7h3.4M89.28 608.0v3.4M93.77 603.0h3.4M95.47 601.3v3.4M99.96 596.2h3.4M101.66 594.5v3.4M106.16 589.2h3.4M107.86 587.5v3.4M112.35 582.5h3.4M114.05 580.8v3.4M118.54 576.4h3.4M120.24 574.7v3.4M124.74 570.0h3.4M126.44 568.3v3.4M130.93 563.7h3.4M132.63 562.0v3.4M137.12 557.4h3.4M138.82 555.7v3.4M143.32 551.3h3.4M145.02 549.6v3.4M149.51 545.5h3.4M151.21 543.8v3.4M155.70 539.9h3.4M157.40 538.2v3.4M161.90 533.9h3.4M163.59 532.2v3.4M168.09 528.4h3.4M169.79 526.7v3.4M174.28 523.2h3.4M175.98 521.5v3.4M180.47 518.1h3.4M182.17 516.4v3.4M186.67 513.1h3.4M188.37 511.4v3.4M192.86 508.0h3.4M194.56 506.3v3.4M199.05 502.8h3.4M200.75 501.1v3.4M205.25 497.8h3.4M206.95 496.1v3.4M211.44 493.2h3.4M213.14 491.5v3.4M217.63 488.4h3.4M219.33 486.7v3.4M223.82 483.4h3.4M225.52 481.7v3.4M230.02 479.3h3.4M231.72 477.6v3.4M236.21 474.8h3.4M237.91 473.1v3.4M242.40 470.4h3.4M244.10 468.7v3.4M248.60 466.3h3.4M250.30 464.6v3.4M254.79 258.2h3.4M256.49 256.5v3.4M260.98 262.7h3.4M262.68 261.0v3.4M267.18 266.7h3.4M268.88 265.0v3.4M273.37 270.8h3.4M275.07 269.1v3.4M279.56 274.7h3.4M281.26 273.0v3.4M285.75 283.2h3.4M287.45 281.5v3.4M291.95 290.5h3.4M293.65 288.8v3.4M298.14 302.4h3.4M299.84 300.7v3.4M304.33 313.3h3.4M306.03 311.6v3.4M310.53 328.3h3.4M312.23 326.6v3.4M316.72 345.1h3.4M318.42 343.4v3.4M322.91 366.3h3.4M324.61 364.6v3.4M329.11 385.2h3.4M330.81 383.5v3.4M335.30 401.4h3.4M337.00 399.7v3.4M341.49 419.2h3.4M343.19 417.5v3.4M347.69 440.2h3.4M349.38 438.5v3.4M353.88 460.5h3.4M355.58 458.8v3.4M360.07 478.0h3.4M361.77 476.3v3.4M366.26 554.6h3.4M367.96 552.9v3.4M372.46 552.8h3.4M374.16 551.1v3.4M378.65 551.6h3.4M380.35 549.9v3.4M384.84 550.1h3.4M386.54 548.4v3.4M391.04 548.9h3.4M392.74 547.2v3.4M397.23 547.8h3.4M398.93 546.1v3.4M403.42 546.7h3.4M405.12 545.0v3.4M409.61 544.8h3.4M411.31 543.1v3.4M415.81 543.7h3.4M417.51 542.0v3.4M422.00 542.3h3.4M423.70 540.6v3.4M428.19 541.2h3.4M429.89 539.5v3.4M434.39 540.3h3.4M436.09 538.6v3.4M440.58 539.2h3.4M442.28 537.5v3.4M446.77 538.0h3.4M448.47 536.3v3.4M452.97 536.9h3.4M454.67 535.2v3.4M459.16 536.2h3.4M460.86 534.5v3.4M465.35 535.2h3.4M467.05 533.5v3.4M471.54 533.9h3.4M473.24 532.2v3.4M477.74 533.1h3.4M479.44 531.4v3.4M483.93 532.4h3.4M485.63 530.7v3.4M490.12 531.1h3.4M491.82 529.4v3.4M496.32 530.1h3.4M498.02 528.4v3.4M502.51 529.4h3.4M504.21 527.7v3.4M508.70 528.5h3.4M510.40 526.8v3.4M514.90 527.6h3.4M516.60 525.9v3.4M521.09 526.7h3.4M522.79 525.0v3.4M527.28 526.0h3.4M528.98 524.3v3.4M533.47 525.3h3.4M535.17 523.6v3.4M539.67 524.4h3.4M541.37 522.7v3.4M545.86 523.3h3.4M547.56 521.6v3.4M552.05 484.1h3.4M553.75 482.4v3.4M558.25 488.5h3.4M559.95 486.8v3.4M564.44 492.6h3.4M566.14 490.9v3.4M570.63 496.0h3.4M572.33 494.3v3.4M576.83 499.7h3.4M578.53 498.0v3.4M583.02 503.2h3.4M584.72 501.5v3.4M589.21 506.9h3.4M590.91 505.2v3.4M595.40 510.3h3.4M597.11 508.6v3.4M601.60 513.7h3.4M603.30 512.0v3.4M607.79 517.1h3.4M609.49 515.4v3.4M613.98 519.9h3.4M615.68 518.2v3.4M620.18 523.0h3.4M621.88 521.3v3.4M626.37 526.0h3.4M628.07 524.3v3.4M632.56 533.1h3.4M634.26 531.4v3.4M638.76 539.4h3.4M640.46 537.7v3.4M644.95 545.4h3.4M646.65 543.7v3.4M651.14 551.2h3.4M652.84 549.5v3.4M657.33 557.0h3.4M659.03 555.3v3.4M663.53 565.3h3.4M665.23 563.6v3.4M669.72 579.6h3.4M671.42 577.9v3.4M675.91 592.2h3.4M677.61 590.5v3.4M682.11 603.9h3.4M683.81 602.2v3.4M688.30 614.9h3.4M690.00 613.2v3.4M694.49 624.5h3.4M696.19 622.8v3.4M700.69 634.2h3.4M702.39 632.5v3.4M706.88 739.7h3.4M708.58 738.0v3.4M713.07 737.6h3.4M714.77 735.9v3.4M719.26 730.8h3.4M720.97 729.1v3.4M725.46 717.8h3.4M727.16 716.1v3.4M731.65 705.9h3.4M733.35 704.2v3.4M737.84 694.6h3.4M739.54 692.9v3.4M744.04 683.7h3.4M745.74 682.0v3.4M750.23 673.4h3.4M751.93 671.7v3.4M756.42 664.6h3.4M758.12 662.9v3.4M762.62 655.0h3.4M764.32 653.3v3.4M768.81 515.5h3.4M770.51 513.8v3.4M775.00 518.2h3.4M776.70 516.5v3.4M781.19 520.9h3.4M782.89 519.2v3.4M787.39 523.7h3.4M789.09 522.0v3.4M793.58 526.7h3.4M795.28 525.0v3.4M799.77 529.4h3.4M801.47 527.7v3.4M805.97 532.3h3.4M807.67 530.6v3.4M812.16 534.8h3.4M813.86 533.1v3.4M818.35 537.5h3.4M820.05 535.8v3.4M824.55 539.8h3.4M826.25 538.1v3.4M830.74 662.9h3.4M832.44 661.2v3.4M836.93 660.4h3.4M838.63 658.7v3.4M843.12 654.1h3.4M844.83 652.4v3.4M849.32 639.8h3.4M851.02 638.1v3.4M855.51 626.8h3.4M857.21 625.1v3.4M861.70 614.2h3.4M863.40 612.5v3.4M867.90 602.9h3.4M869.60 601.2v3.4M874.09 591.9h3.4M875.79 590.2v3.4M880.28 569.8h3.4M881.98 568.1v3.4M886.48 247.0h3.4M888.18 245.3v3.4M892.67 247.0h3.4M894.37 245.3v3.4M898.86 253.7h3.4M900.56 252.0v3.4M905.05 260.0h3.4M906.75 258.3v3.4M911.25 273.6h3.4M912.95 271.9v3.4M917.44 294.7h3.4M919.14 293.0v3.4M923.63 313.9h3.4M925.33 312.2v3.4M929.83 332.2h3.4M931.53 330.5v3.4M936.02 349.6h3.4M937.72 347.9v3.4M942.21 365.7h3.4M943.91 364.0v3.4M948.41 381.1h3.4M950.11 379.4v3.4M954.60 395.8h3.4M956.30 394.1v3.4M960.79 408.9h3.4M962.49 407.2v3.4M966.98 422.1h3.4M968.68 420.4v3.4M973.18 434.0h3.4M974.88 432.3v3.4M979.37 444.9h3.4M981.07 443.2v3.4M985.56 455.6h3.4M987.26 453.9v3.4M991.76 465.4h3.4M993.46 463.7v3.4M997.95 475.1h3.4M999.65 473.4v3.4M1004.14 483.4h3.4M1005.84 481.7v3.4M1010.34 495.3h3.4M1012.04 493.6v3.4M1016.53 506.6h3.4M1018.23 504.9v3.4M1022.72 516.4h3.4M1024.42 514.7v3.4M1028.91 526.0h3.4M1030.62 524.3v3.4" stroke="#2F55DC" stroke-width="1.3" fill="none"/>
<text x="1170.04" y="69.5" font-size="13.9" fill="#131722" stroke="#131722" stroke-width="0.22" textLength="46.22" lengthAdjust="spacing">0.3600</text>
<text x="1170.04" y="128.0" font-size="13.9" fill="#131722" stroke="#131722" stroke-width="0.22" textLength="46.22" lengthAdjust="spacing">0.3400</text>
<text x="1170.04" y="186.6" font-size="13.9" fill="#131722" stroke="#131722" stroke-width="0.22" textLength="46.22" lengthAdjust="spacing">0.3200</text>
<text x="1170.04" y="245.1" font-size="13.9" fill="#131722" stroke="#131722" stroke-width="0.22" textLength="46.22" lengthAdjust="spacing">0.3000</text>
<text x="1170.04" y="303.6" font-size="13.9" fill="#131722" stroke="#131722" stroke-width="0.22" textLength="46.22" lengthAdjust="spacing">0.2800</text>
<text x="1170.04" y="362.2" font-size="13.9" fill="#131722" stroke="#131722" stroke-width="0.22" textLength="46.22" lengthAdjust="spacing">0.2600</text>
<text x="1170.04" y="420.7" font-size="13.9" fill="#131722" stroke="#131722" stroke-width="0.22" textLength="46.22" lengthAdjust="spacing">0.2400</text>
<text x="1170.04" y="479.3" font-size="13.9" fill="#131722" stroke="#131722" stroke-width="0.22" textLength="46.22" lengthAdjust="spacing">0.2200</text>
<text x="1170.04" y="537.9" font-size="13.9" fill="#131722" stroke="#131722" stroke-width="0.22" textLength="46.22" lengthAdjust="spacing">0.2000</text>
<text x="1170.04" y="596.4" font-size="13.9" fill="#131722" stroke="#131722" stroke-width="0.22" textLength="46.22" lengthAdjust="spacing">0.1800</text>
<text x="1170.04" y="655.0" font-size="13.9" fill="#131722" stroke="#131722" stroke-width="0.22" textLength="46.22" lengthAdjust="spacing">0.1600</text>
<text x="1170.04" y="713.5" font-size="13.9" fill="#131722" stroke="#131722" stroke-width="0.22" textLength="46.22" lengthAdjust="spacing">0.1400</text>
<text x="1170.04" y="772.0" font-size="13.9" fill="#131722" stroke="#131722" stroke-width="0.22" textLength="46.22" lengthAdjust="spacing">0.1200</text>
<text x="1170.04" y="830.6" font-size="13.9" fill="#131722" stroke="#131722" stroke-width="0.22" textLength="46.22" lengthAdjust="spacing">0.1000</text>
<rect x="1161" y="516.8" width="62.3" height="18.9" rx="2.2" fill="#2962FF"/>
<text x="1170.54" y="530.9" font-size="13.9" fill="#fff" stroke="#fff" stroke-width="0.08" textLength="46.02" lengthAdjust="spacing">0.2026</text>
<rect x="1161" y="536.7" width="62.3" height="18.9" rx="2.2" fill="#F23645"/>
<text x="1170.54" y="550.8" font-size="13.9" fill="#fff" stroke="#fff" stroke-width="0.08" textLength="46.02" lengthAdjust="spacing">0.1957</text>
<rect x="1161" y="583.6" width="62.3" height="19.2" rx="2.2" fill="#2962FF"/>
<text x="1170.54" y="597.8" font-size="13.9" fill="#fff" stroke="#fff" stroke-width="0.08" textLength="46.02" lengthAdjust="spacing">0.1796</text>
<rect x="1161" y="630.3" width="62.3" height="19.2" rx="2.2" fill="#089981"/>
<text x="1170.54" y="644.5" font-size="13.9" fill="#fff" stroke="#fff" stroke-width="0.08" textLength="46.02" lengthAdjust="spacing">0.1636</text>
<rect x="1158" y="606.5" width="4" height="19.1" fill="#f7808c"/>
<rect x="1108.5" y="606.5" width="51.0" height="19.1" rx="2.2" fill="#F23645"/>
<text x="1114.12" y="620.8" font-size="13.9" fill="#fff" stroke="#fff" stroke-width="0.08" textLength="40.86" lengthAdjust="spacing">PIUSD</text>
<rect x="1161.0" y="606.5" width="75" height="19.1" rx="2.2" fill="#F23645"/>
<text x="1171.16" y="620.8" font-size="13.9" fill="#fff" stroke="#fff" stroke-width="0.08" textLength="57.56" lengthAdjust="spacing">18:24:06</text>
<text x="58.12" y="873.9" font-size="14.2" fill="#131722" stroke="#131722" stroke-width="0.22" textLength="24.72" lengthAdjust="spacing">Nov</text>
<text x="243.74" y="873.9" font-size="14.2" fill="#131722" stroke="#131722" stroke-width="0.22" textLength="25.52" lengthAdjust="spacing">Dec</text>
<text x="430.60" y="873.9" font-size="15" fill="#131722" font-weight="bold" textLength="35.64" lengthAdjust="spacing">2026</text>
<text x="622.20" y="873.9" font-size="14.2" fill="#131722" stroke="#131722" stroke-width="0.22" textLength="24.52" lengthAdjust="spacing">Feb</text>
<text x="795.58" y="873.9" font-size="14.2" fill="#131722" stroke="#131722" stroke-width="0.22" textLength="24.60" lengthAdjust="spacing">Mar</text>
<text x="988.54" y="873.9" font-size="14.2" fill="#131722" stroke="#131722" stroke-width="0.22" textLength="21.80" lengthAdjust="spacing">Apr</text>
<rect x="17" y="40.5" width="538" height="18.5" fill="#ffffff" fill-opacity="0.85"/>
<rect x="17" y="60.3" width="304" height="18.5" fill="#ffffff" fill-opacity="0.85"/>
<rect x="17" y="79.8" width="194" height="18.5" fill="#ffffff" fill-opacity="0.85"/>
<text x="11.62" y="22.85" font-size="14.2" fill="#131722" stroke="#131722" stroke-width="0.22" textLength="494.10" lengthAdjust="spacing">ParshwaTurakhiya28 created with TradingView.com, Apr 06, 2026 05:35 UTC</text>
<text x="21.12" y="53.2" font-size="13.8" fill="#131722" stroke="#131722" stroke-width="0.22" textLength="169.56" lengthAdjust="spacing">Pi Network/USD · 1D · OKX</text>
<text x="199.74" y="53.2" font-size="13.8" fill="#131722" stroke="#131722" stroke-width="0.22" textLength="50.86" lengthAdjust="spacing">O<tspan fill="#F23645" stroke="#F23645">0.1719</tspan></text>
<text x="259.48" y="53.2" font-size="13.8" fill="#131722" stroke="#131722" stroke-width="0.22" textLength="51.38" lengthAdjust="spacing">H<tspan fill="#F23645" stroke="#F23645">0.1720</tspan></text>
<text x="319.48" y="53.2" font-size="13.8" fill="#131722" stroke="#131722" stroke-width="0.22" textLength="49.62" lengthAdjust="spacing">L<tspan fill="#F23645" stroke="#F23645">0.1706</tspan></text>
<text x="377.22" y="53.2" font-size="13.8" fill="#131722" stroke="#131722" stroke-width="0.22" textLength="50.38" lengthAdjust="spacing">C<tspan fill="#F23645" stroke="#F23645">0.1718</tspan></text>
<text x="436.50" y="53.2" font-size="13.8" fill="#F23645" stroke="#F23645" stroke-width="0.22" textLength="115.56" lengthAdjust="spacing">+0.0026 (+1.54%)</text>
<text x="21.12" y="73.0" font-size="13.8" fill="#131722" stroke="#131722" stroke-width="0.22" textLength="143.44" lengthAdjust="spacing">BB (20, SMA, close, 2)</text>
<text x="172.66" y="73.0" font-size="13.8" fill="#2962FF" stroke="#2962FF" stroke-width="0.22" textLength="42.06" lengthAdjust="spacing">0.1796</text>
<text x="223.20" y="73.0" font-size="13.8" fill="#F23645" stroke="#F23645" stroke-width="0.22" textLength="42.06" lengthAdjust="spacing">0.1957</text>
<text x="274.96" y="73.0" font-size="13.8" fill="#089981" stroke="#089981" stroke-width="0.22" textLength="42.64" lengthAdjust="spacing">0.1636</text>
<text x="21.12" y="92.2" font-size="13.8" fill="#131722" stroke="#131722" stroke-width="0.22" textLength="132.44" lengthAdjust="spacing">SAR (0.02, 0.02, 0.2)</text>
<text x="162.50" y="92.2" font-size="13.8" fill="#2962FF" stroke="#2962FF" stroke-width="0.22" textLength="44.60" lengthAdjust="spacing">0.2026</text>
<g transform="translate(13.7,905.45) scale(0.94)" fill="#16181d"><path d="M14 22H7V11H0V4h14v18zM28 22h-8l7.5-18h8L28 22z"/><circle cx="20" cy="8" r="4"/></g>
<text x="56.42" y="926.0" font-size="23.4" fill="#16181d" font-weight="bold" textLength="135.92" lengthAdjust="spacing">TradingView</text>
</svg></body></html>
